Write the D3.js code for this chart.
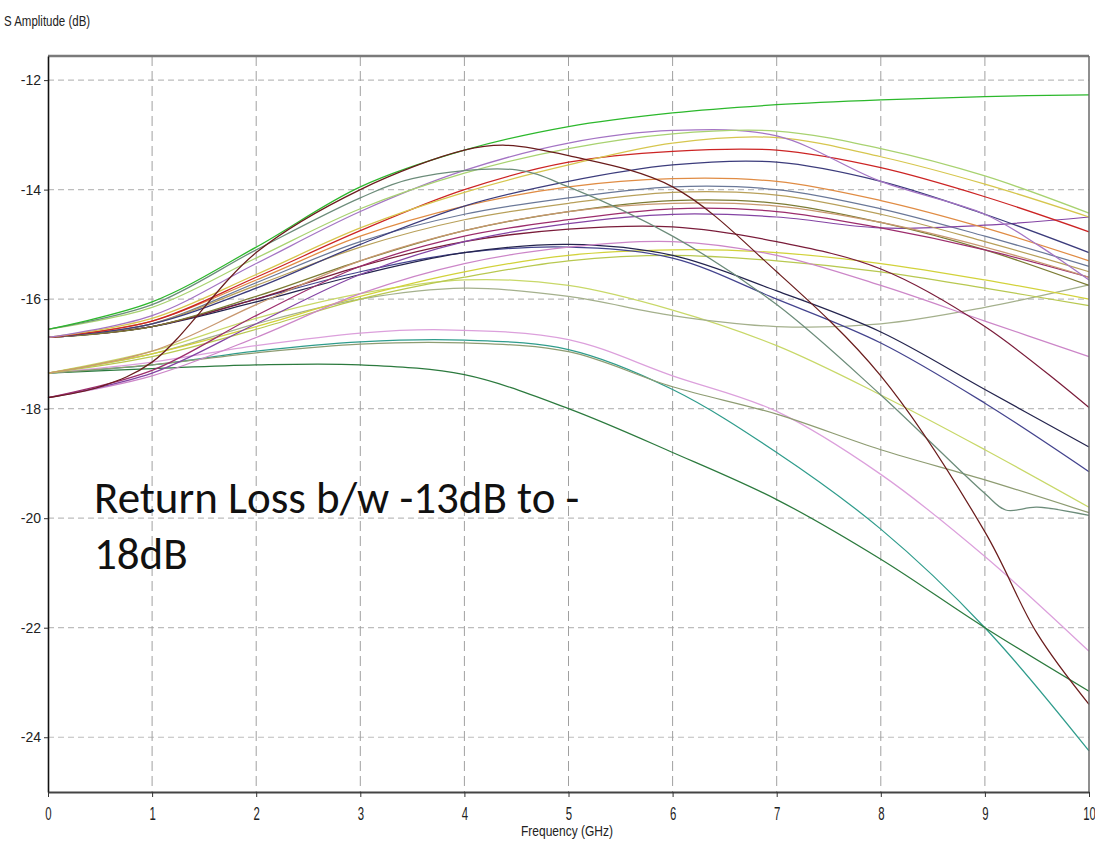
<!DOCTYPE html>
<html>
<head>
<meta charset="utf-8">
<script src="https://cdn.jsdelivr.net/npm/d3@7"></script>
<style>
  body { margin: 0; background: #fff; }
  svg { display: block; }
</style>
</head>
<body>
<svg id="chart" width="1095" height="841"></svg>
<script>
// Axis ticks
const freqTicks = [0, 1, 2, 3, 4, 5, 6, 7, 8, 9, 10];
const dbTicks = [-12, -14, -16, -18, -20, -22, -24];

// S-parameter traces: [frequency GHz, amplitude dB]
const sGreen      = [[0,-16.55],[1,-16.05],[2,-15.05],[3,-13.95],[4,-13.28],[5,-12.85],[6,-12.6],[7,-12.45],[8,-12.36],[9,-12.3],[10,-12.27]];
const sLightGreen = [[0,-16.55],[1,-16.15],[2,-15.25],[3,-14.35],[4,-13.7],[5,-13.25],[6,-12.98],[7,-12.93],[8,-13.25],[9,-13.75],[10,-14.43]];
const sYellowTop  = [[0,-16.7],[1,-16.35],[2,-15.55],[3,-14.7],[4,-14.05],[5,-13.55],[6,-13.15],[7,-13.05],[8,-13.4],[9,-13.9],[10,-14.5]];
const sLavender   = [[0,-16.7],[1,-16.3],[2,-15.35],[3,-14.4],[4,-13.65],[5,-13.15],[6,-12.92],[7,-13.02],[8,-13.85],[9,-14.45],[9.5,-15.0],[10,-15.65]];
const sRed        = [[0,-16.7],[1,-16.4],[2,-15.6],[3,-14.75],[4,-14.0],[5,-13.5],[6,-13.3],[7,-13.28],[8,-13.6],[9,-14.13],[10,-14.77]];
const sNavyTop    = [[0,-16.7],[1,-16.45],[2,-15.8],[3,-15.0],[4,-14.3],[5,-13.85],[6,-13.55],[7,-13.5],[8,-13.85],[9,-14.45],[10,-15.15]];
const sBrown      = [[0,-17.8],[0.5,-17.6],[1,-17.15],[2,-15.15],[3,-14.0],[4,-13.28],[4.4,-13.19],[5,-13.38],[6,-13.95],[7,-15.5],[8,-17.4],[9,-20.25],[9.5,-22.1],[10,-23.4]];
const sGraySteep  = [[0,-16.55],[1,-16.1],[2,-15.1],[3,-14.15],[3.5,-13.8],[4.5,-13.64],[5,-13.95],[6,-14.85],[7,-16.1],[8,-17.75],[9,-19.55],[9.2,-19.85],[9.5,-19.8],[10,-19.95]];
const sKhaki      = [[0,-16.7],[1,-16.45],[2,-15.75],[3,-15.05],[4,-14.55],[5,-14.25],[6,-14.05],[7,-14.1],[8,-14.45],[9,-14.95],[10,-15.5]];
const sMagenta    = [[0,-17.8],[1,-17.3],[2,-16.3],[3,-15.4],[4,-14.85],[5,-14.55],[6,-14.35],[7,-14.4],[8,-14.7],[9,-15.1],[10,-15.6]];
const sOlive      = [[0,-16.7],[1,-16.5],[2,-15.95],[3,-15.3],[4,-14.75],[5,-14.4],[6,-14.2],[7,-14.25],[8,-14.6],[9,-15.1],[10,-15.75]];
const sPurple     = [[0,-17.8],[1,-17.35],[2,-16.45],[3,-15.55],[4,-14.95],[5,-14.62],[6,-14.45],[7,-14.5],[8,-14.7],[9,-14.65],[10,-14.5]];
const sSlate      = [[0,-16.7],[1,-16.45],[2,-15.7],[3,-14.95],[4,-14.45],[5,-14.15],[6,-13.95],[7,-14.0],[8,-14.35],[9,-14.85],[10,-15.4]];
const sDarkRed    = [[0,-16.7],[1,-16.5],[2,-16.0],[3,-15.4],[4,-14.95],[5,-14.72],[6,-14.68],[7,-14.95],[8,-15.45],[9,-16.5],[10,-17.98]];
const sPink       = [[0,-17.8],[1,-17.4],[2,-16.7],[3,-15.9],[4,-15.35],[5,-15.05],[6,-14.95],[7,-15.2],[8,-15.75],[9,-16.4],[10,-17.05]];
const sNavyDark   = [[0,-16.7],[1,-16.5],[2,-16.05],[3,-15.55],[4,-15.15],[5,-15.0],[6,-15.2],[7,-15.85],[8,-16.6],[9,-17.65],[10,-18.7]];
const sNavy       = [[0,-16.7],[1,-16.5],[2,-16.0],[3,-15.5],[4,-15.15],[5,-15.05],[6,-15.25],[7,-16.0],[8,-16.8],[9,-17.9],[10,-19.15]];
const sYellow     = [[0,-17.35],[1,-17.0],[2,-16.5],[3,-15.95],[4,-15.5],[5,-15.2],[6,-15.1],[7,-15.15],[8,-15.35],[9,-15.65],[10,-16.0]];
const sYellowGrn  = [[0,-17.35],[1,-17.05],[2,-16.55],[3,-16.0],[4,-15.6],[5,-15.3],[6,-15.2],[7,-15.3],[8,-15.5],[9,-15.8],[10,-16.12]];
const sPaleYellow = [[0,-17.35],[1,-16.95],[2,-16.35],[3,-15.9],[4,-15.65],[5,-15.75],[6,-16.2],[7,-16.85],[8,-17.75],[9,-18.75],[10,-19.8]];
const sSage       = [[0,-17.35],[1,-17.0],[2,-16.45],[3,-16.0],[4,-15.8],[5,-15.95],[6,-16.3],[7,-16.5],[8,-16.45],[9,-16.15],[10,-15.74]];
const sPinkLow    = [[0,-17.35],[1,-17.15],[2,-16.85],[3,-16.62],[3.8,-16.56],[5,-16.74],[6,-17.4],[7,-18.05],[8,-19.2],[9,-20.7],[10,-22.43]];
const sTeal       = [[0,-17.35],[1,-17.2],[2,-16.95],[3,-16.78],[4,-16.75],[5,-16.92],[6,-17.65],[7,-18.8],[8,-20.2],[9,-22.0],[10,-24.25]];
const sOliveGray  = [[0,-17.35],[1,-17.2],[2,-16.98],[3,-16.82],[4,-16.8],[5,-16.96],[6,-17.6],[7,-18.1],[8,-18.75],[9,-19.3],[10,-19.9]];
const sDarkGreen  = [[0,-17.35],[1,-17.27],[2,-17.2],[3,-17.2],[4,-17.38],[5,-18.0],[6,-18.8],[7,-19.66],[8,-20.75],[9,-22.0],[10,-23.16]];
const sOrange     = [[0,-16.7],[1,-16.4],[2,-15.65],[3,-14.85],[4,-14.3],[5,-13.95],[6,-13.8],[7,-13.85],[8,-14.2],[9,-14.7],[10,-15.3]];
const sTan        = [[0,-17.35],[1,-16.95],[2,-16.1],[3,-15.3],[4,-14.75],[5,-14.4],[6,-14.25],[7,-14.3],[8,-14.6],[9,-15.05],[10,-15.6]];

const traces = [sTeal, sDarkGreen, sPinkLow, sOliveGray, sPaleYellow, sSage, sYellow, sYellowGrn,
                sNavy, sNavyDark, sPink, sDarkRed, sSlate, sPurple, sOlive, sMagenta, sKhaki, sTan,
                sOrange, sNavyTop, sRed, sYellowTop, sLavender, sLightGreen, sGraySteep, sGreen, sBrown];
const traceColors = ["#2f9c8c", "#2c7a3e", "#dca0dc", "#8e9c72", "#c8d868", "#a4b08c", "#d2d23a", "#b8c850",
                     "#44448e", "#24244e", "#cc86c8", "#7a1c3a", "#6a7898", "#8444a4", "#7c7c34", "#9c2c6c", "#b8a05a", "#c89870",
                     "#e08c44", "#3c3c7c", "#cc2424", "#d6c64e", "#a474c4", "#a8d270", "#6c8c7a", "#2cb82c", "#6a1c1c"];

const svg = d3.select("#chart");
const W = 1095, H = 841;
const x = d3.scaleLinear().domain([0, 10]).range([48, 1089]);
const y = d3.scaleLinear().domain([-25, -11.56]).range([792, 56]);

svg.append("rect").attr("width", W).attr("height", H).attr("fill", "#fff");

// Grid
const grid = svg.append("g");
grid.selectAll("line.h").data(dbTicks).join("line")
  .attr("x1", x(0)).attr("x2", x(10))
  .attr("y1", d => y(d)).attr("y2", d => y(d))
  .attr("stroke", "#bdbdbd").attr("stroke-width", 1.2).attr("stroke-dasharray", "6,4");
grid.selectAll("line.v").data(freqTicks.slice(1, -1)).join("line")
  .attr("x1", d => x(d)).attr("x2", d => x(d))
  .attr("y1", y(-11.56)).attr("y2", y(-25))
  .attr("stroke", "#a0a0a0").attr("stroke-width", 1).attr("stroke-dasharray", "10,5");

// Traces
const line = d3.line().x(d => x(d[0])).y(d => y(d[1])).curve(d3.curveCatmullRom.alpha(0.5));
svg.append("g").selectAll("path").data(traces).join("path")
  .attr("d", line)
  .attr("fill", "none")
  .attr("stroke", (d, i) => traceColors[i])
  .attr("stroke-width", 1.25)
  .attr("stroke-linejoin", "round");

// Frame
svg.append("line").attr("x1", x(0)).attr("x2", x(10)).attr("y1", y(-11.56)).attr("y2", y(-11.56))
  .attr("stroke", "#7a7a7a").attr("stroke-width", 2.5);
svg.append("line").attr("x1", x(10)).attr("x2", x(10)).attr("y1", y(-11.56)).attr("y2", y(-25))
  .attr("stroke", "#6a6a6a").attr("stroke-width", 1.5);

// Axes
const axisFont = "'Liberation Sans', Arial, sans-serif";
const yAxis = svg.append("g").attr("transform", `translate(${x(0)},0)`)
  .call(d3.axisLeft(y).tickValues(dbTicks).tickFormat(d => String(d)).tickSize(4).tickPadding(3).tickSizeOuter(0));
yAxis.select(".domain").attr("stroke", "#111").attr("stroke-width", 1.6);
yAxis.selectAll(".tick line").attr("stroke", "#333");
yAxis.selectAll("text").attr("font-family", axisFont).attr("font-size", 14).attr("fill", "#222");

const xAxis = svg.append("g").attr("transform", `translate(0,${y(-25)})`)
  .call(d3.axisBottom(x).tickValues(freqTicks).tickFormat(d => String(d)).tickSize(5).tickPadding(10).tickSizeOuter(0));
xAxis.select(".domain").attr("stroke", "#444").attr("stroke-width", 2);
xAxis.selectAll(".tick line").attr("stroke", "#333");
xAxis.selectAll("text").attr("font-family", axisFont).attr("font-size", 19).attr("fill", "#222")
  .attr("transform", "scale(0.6,1)");

// Axis titles
svg.append("text").attr("transform", "translate(4,26) scale(0.82,1)")
  .attr("font-family", axisFont).attr("font-size", 14).attr("fill", "#222").text("S Amplitude (dB)");
svg.append("text").attr("transform", "translate(567,836) scale(0.8,1)")
  .attr("text-anchor", "middle")
  .attr("font-family", axisFont).attr("font-size", 15).attr("fill", "#222").text("Frequency (GHz)");

// Annotation
const note = svg.append("g").attr("font-family", "Carlito, Calibri, 'Open Sans', sans-serif")
  .attr("font-size", 45).attr("fill", "#111");
note.append("text").attr("x", 94).attr("y", 513).text("Return Loss b/w -13dB to -");
note.append("text").attr("x", 94).attr("y", 569).text("18dB");
</script>
</body>
</html>
